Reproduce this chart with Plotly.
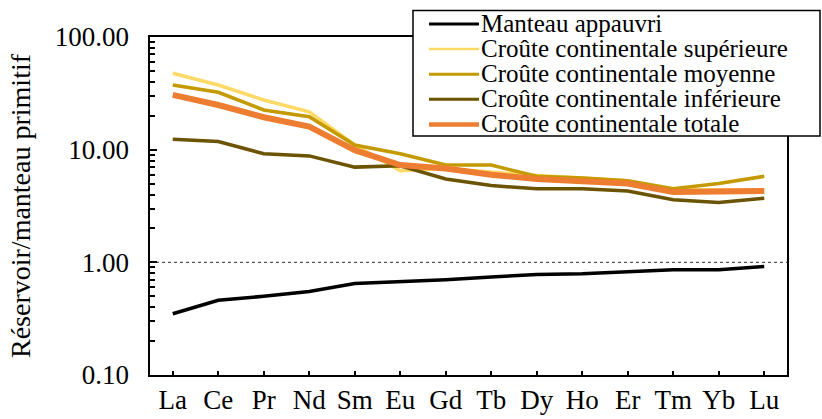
import plotly.graph_objects as go

elements = ["La", "Ce", "Pr", "Nd", "Sm", "Eu", "Gd", "Tb", "Dy", "Ho", "Er", "Tm", "Yb", "Lu"]

manteau_appauvri = [0.35, 0.46, 0.50, 0.55, 0.65, 0.67, 0.70, 0.74, 0.78, 0.79, 0.83, 0.86, 0.86, 0.92]
croute_superieure = [47.6, 37.5, 27.6, 21.7, 11.0, 6.5, 6.8, 6.3, 5.9, 5.6, 5.3, 4.4, 4.4, 4.4]
croute_moyenne = [37.5, 32.3, 22.5, 19.6, 11.0, 9.2, 7.3, 7.3, 5.8, 5.6, 5.3, 4.5, 5.0, 5.8]
croute_inferieure = [12.4, 11.8, 9.2, 8.8, 7.0, 7.2, 5.5, 4.8, 4.5, 4.5, 4.3, 3.6, 3.4, 3.7]
croute_totale = [30.6, 24.9, 19.4, 16.0, 9.9, 7.3, 6.8, 6.0, 5.5, 5.2, 5.0, 4.2, 4.3, 4.3]

y_tickvals = [0.1, 1, 10, 100]
y_ticktext = ["0.10", "1.00", "10.00", "100.00"]
y_minor = [m * v for v in y_tickvals[:-1] for m in range(2, 10)]

series = [
    ("Manteau appauvri", manteau_appauvri, "#000000", 3.5),
    ("Croûte continentale supérieure", croute_superieure, "#FFD966", 3.5),
    ("Croûte continentale moyenne", croute_moyenne, "#C49A00", 3.5),
    ("Croûte continentale inférieure", croute_inferieure, "#6B5300", 3.5),
    ("Croûte continentale totale", croute_totale, "#ED7D31", 6),
]

W, H = 822, 419
L, R, T, B = 150, 35, 37, 44
PW, PH = W - L - R, H - T - B


def px_x(x):
    return (x - L) / PW


def px_y(y):
    return (H - B - y) / PH


fig = go.Figure()
for name, vals, color, w in series:
    fig.add_trace(go.Scatter(x=elements, y=vals, mode="lines", name=name,
                             line=dict(color=color, width=w), showlegend=False))

font = "Liberation Serif, Times New Roman, serif"

shapes = [
    dict(type="line", xref="paper", yref="y", x0=0, x1=1, y0=1, y1=1,
         line=dict(color="#555555", width=1.2, dash="dot"), layer="below"),
    dict(type="rect", xref="paper", yref="paper",
         x0=px_x(413), x1=px_x(820), y0=px_y(136), y1=px_y(10.5),
         line=dict(color="black", width=1.5), fillcolor="white", layer="above"),
]
annotations = []
legend_widths = [3, 2.5, 3, 3, 4.5]
for i, (name, vals, color, w) in enumerate(series):
    yy = 24 + 25.1 * i
    shapes.append(dict(type="line", xref="paper", yref="paper",
                       x0=px_x(429), x1=px_x(479), y0=px_y(yy), y1=px_y(yy),
                       line=dict(color=color, width=legend_widths[i]), layer="above"))
    annotations.append(dict(text=name, xref="paper", yref="paper",
                            x=px_x(479), y=px_y(yy - 0.5), xanchor="left", yanchor="middle",
                            showarrow=False, font=dict(family=font, size=25, color="black")))

pad = "\u00a0\u00a0"
fig.update_layout(
    width=W, height=H,
    margin=dict(l=L, r=R, t=T, b=B, autoexpand=False),
    paper_bgcolor="white", plot_bgcolor="white",
    font=dict(family=font, size=26, color="black"),
    showlegend=False,
    shapes=shapes,
    annotations=annotations,
    xaxis=dict(type="category", range=[-0.5, 13.5], showline=True, linecolor="black",
               linewidth=2, mirror=True, ticks="inside", ticklen=4, tickcolor="black",
               tickwidth=1.5, showgrid=False, tickfont=dict(size=27)),
    yaxis=dict(type="log", range=[-1, 2], showline=True, linecolor="black",
               linewidth=2, mirror=True, ticks="inside", ticklen=7, tickcolor="black",
               tickwidth=1.5, tickmode="array",
               tickvals=y_tickvals, ticktext=[t + pad for t in y_ticktext], showgrid=False,
               minor=dict(tickmode="array", tickvals=y_minor, ticks="inside", ticklen=5,
                          tickcolor="black", tickwidth=1.5, showgrid=False),
               title=dict(text="Réservoir/manteau primitif", font=dict(size=28), standoff=16),
               tickfont=dict(size=27)),
)

fig.write_html("out.html", config={"displayModeBar": False},
               post_script="document.body.style.margin='0';")
